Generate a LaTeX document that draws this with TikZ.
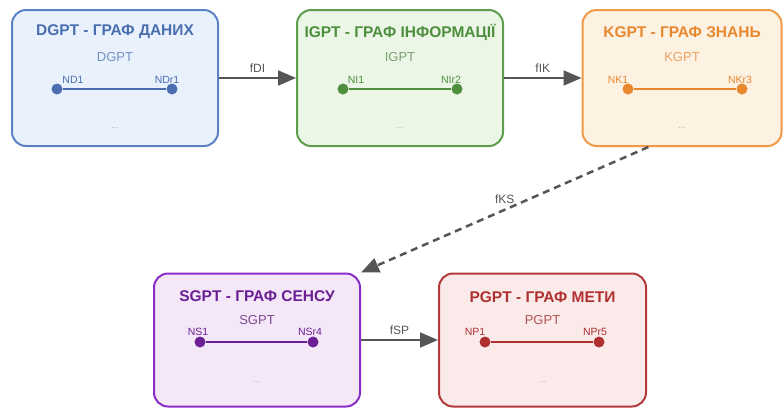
\documentclass[tikz,border=0pt]{standalone}
\usepackage{fontspec}
\setmainfont{Liberation Sans}
\usepackage{xcolor}
\usetikzlibrary{
    arrows.meta,
    positioning
}

\definecolor{dgline}{HTML}{5B82C4}
\definecolor{dgfill}{HTML}{E9F2FC}
\definecolor{dgtext}{HTML}{4A6EB0}
\definecolor{dgsub}{HTML}{7390C2}
\definecolor{igline}{HTML}{5C9E4C}
\definecolor{igfill}{HTML}{EBF6E7}
\definecolor{igtext}{HTML}{4D8F3D}
\definecolor{igsub}{HTML}{7C9E72}
\definecolor{kgline}{HTML}{F09A48}
\definecolor{kgfill}{HTML}{FDF1E2}
\definecolor{kgtext}{HTML}{E8882E}
\definecolor{kgsub}{HTML}{EBA264}
\definecolor{sgline}{HTML}{8A2CC8}
\definecolor{sgfill}{HTML}{F4E8F8}
\definecolor{sgtext}{HTML}{6B1F95}
\definecolor{sgsub}{HTML}{7A4A90}
\definecolor{pgline}{HTML}{B33A3A}
\definecolor{pgfill}{HTML}{FBEAEA}
\definecolor{pgtext}{HTML}{B03030}
\definecolor{pgsub}{HTML}{B05555}
\definecolor{flowgray}{HTML}{555555}

\begin{document}
\begin{tikzpicture}[
    x=1pt, y=1pt,
    >=Latex,
    graphbox/.style={draw=#1line, fill=#1fill, line width=2pt,
        rounded corners=14pt, minimum height=136pt},
    title/.style={text=#1text, font=\fontsize{15.5}{17}\selectfont\bfseries},
    sub/.style={text=#1sub, font=\fontsize{13}{15}\selectfont},
    vlabel/.style={text=#1text, font=\fontsize{10.5}{12}\selectfont, inner sep=0pt},
    vertex/.style={circle, fill=#1text, minimum size=11pt, inner sep=0pt},
    edge/.style={draw=#1text, line width=2pt},
    more/.style={text=gray!70, font=\fontsize{8}{10}\selectfont},
    flow/.style={draw=flowgray, line width=2pt,
        -{Triangle[length=18pt,width=15pt]}},
    flowlabel/.style={text=flowgray, font=\fontsize{12}{14}\selectfont}
]

\useasboundingbox (0,0) rectangle (784,-408);

% data graph
\node[graphbox=dg, minimum width=206pt] (dgpt) at (115,-78) {};
\node[title=dg] (dgtitle) at (115,-32) {DGPT - ГРАФ ДАНИХ};
\node[sub=dg] (dgsub) at (115,-57) {DGPT};
\node[vertex=dg] (nd1) at (57,-89) {};
\node[vertex=dg] (ndr1) at (172,-89) {};
\draw[edge=dg] (nd1) -- (ndr1);
\node[vlabel=dg] (nd1lab) at (73,-80) {ND1};
\node[vlabel=dg] (ndr1lab) at (167,-80) {NDr1};
\node[more] (dgmore) at (115,-128) {...};

% information graph
\node[graphbox=ig, minimum width=206pt] (igpt) at (400,-78) {};
\node[title=ig] (igtitle) at (400,-32) {IGPT - ГРАФ ІНФОРМАЦІЇ};
\node[sub=ig] (igsub) at (400,-57) {IGPT};
\node[vertex=ig] (ni1) at (343,-89) {};
\node[vertex=ig] (nir2) at (457,-89) {};
\draw[edge=ig] (ni1) -- (nir2);
\node[vlabel=ig] (ni1lab) at (356,-80) {NI1};
\node[vlabel=ig] (nir2lab) at (451,-80) {NIr2};
\node[more] (igmore) at (400,-128) {...};

% knowledge graph
\node[graphbox=kg, minimum width=199pt] (kgpt) at (682,-78) {};
\node[title=kg] (kgtitle) at (682,-32) {KGPT - ГРАФ ЗНАНЬ};
\node[sub=kg] (kgsub) at (682,-57) {KGPT};
\node[vertex=kg] (nk1) at (628,-89) {};
\node[vertex=kg] (nkr3) at (742,-89) {};
\draw[edge=kg] (nk1) -- (nkr3);
\node[vlabel=kg] (nk1lab) at (618,-80) {NK1};
\node[vlabel=kg] (nkr3lab) at (740,-80) {NKr3};
\node[more] (kgmore) at (682,-128) {...};

% sense graph
\node[graphbox=sg, minimum width=206pt, minimum height=133pt] (sgpt) at (257,-340) {};
\node[title=sg] (sgtitle) at (257,-296) {SGPT - ГРАФ СЕНСУ};
\node[sub=sg] (sgsub) at (257,-320) {SGPT};
\node[vertex=sg] (ns1) at (200,-342) {};
\node[vertex=sg] (nsr4) at (313,-342) {};
\draw[edge=sg] (ns1) -- (nsr4);
\node[vlabel=sg] (ns1lab) at (198,-332) {NS1};
\node[vlabel=sg] (nsr4lab) at (310,-332) {NSr4};
\node[more] (sgmore) at (257,-382) {...};

% goal graph
\node[graphbox=pg, minimum width=207pt, minimum height=133pt] (pgpt) at (542.5,-340) {};
\node[title=pg] (pgtitle) at (542.5,-297) {PGPT - ГРАФ МЕТИ};
\node[sub=pg] (pgsub) at (542.5,-320) {PGPT};
\node[vertex=pg] (np1) at (485,-342) {};
\node[vertex=pg] (npr5) at (599,-342) {};
\draw[edge=pg] (np1) -- (npr5);
\node[vlabel=pg] (np1lab) at (475,-332) {NP1};
\node[vlabel=pg] (npr5lab) at (595,-332) {NPr5};
\node[more] (pgmore) at (542.5,-382) {...};

% transitions
\draw[flow] (dgpt.east) -- (igpt.west)
    node[flowlabel, midway, above=1pt] {fDI};
\draw[flow] (igpt.east) -- (kgpt.west)
    node[flowlabel, midway, above=1pt] {fIK};
\draw[flow, dash pattern=on 7pt off 5pt, line width=2.5pt] (kgpt.244) -- (sgpt.north east)
    node[flowlabel, midway, above=2pt] {fKS};
\draw[flow] (sgpt.east) -- (pgpt.west)
    node[flowlabel, midway, above=1pt] {fSP};

\end{tikzpicture}
\end{document}
